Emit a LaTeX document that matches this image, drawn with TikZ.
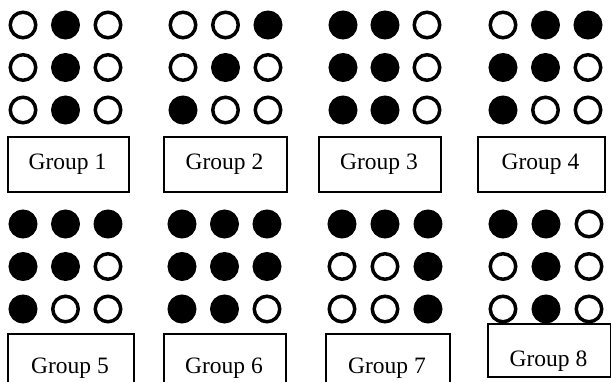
\documentclass[tikz,border=0pt]{standalone}
\usepackage{fontspec}
\setmainfont{Liberation Serif}
\begin{document}
\begin{tikzpicture}[x=1pt,y=-1pt,
  dot/.style={circle, inner sep=0pt, minimum size=25.5pt, line width=3.5pt, draw=black},
  grp/.style={draw=black, line width=1.6pt, inner sep=0pt, anchor=north west},
  lbl/.style={font=\fontsize{23.5}{28}\selectfont, anchor=base, inner sep=0pt}]
\useasboundingbox (0,0) rectangle (611,381);
\clip (0,0) rectangle (611,381);
\foreach \g/\x/\dx/\y/\p in {
 1/23/42.5/25/{white,black,white,white,black,white,white,black,white},
 2/183/42.5/25/{white,white,black,white,black,white,black,white,white},
 3/343/42/25/{black,black,white,black,black,white,black,black,white},
 4/503/42.5/25/{white,black,black,black,black,white,black,white,white},
 5/23/42.5/224/{black,black,black,black,black,white,black,white,white},
 6/182/42.5/224/{black,black,black,black,black,black,black,black,white},
 7/342/43/224/{black,black,black,white,white,black,white,white,black},
 8/503/43/224/{black,black,white,white,black,white,white,black,white}}
{
  \foreach \s [count=\i from 0] in \p {
    \pgfmathtruncatemacro\r{\i/3}
    \pgfmathtruncatemacro\c{mod(\i,3)}
    \node[dot, fill=\s] (g\g-\i) at (\x+\c*\dx, \y+\r*42.5) {};
  }
}
\node[grp, minimum width=121, minimum height=55] (b1) at (7,136) {};
\node[grp, minimum width=123, minimum height=55] (b2) at (163,136) {};
\node[grp, minimum width=122, minimum height=55] (b3) at (318,136) {};
\node[grp, minimum width=127, minimum height=55] (b4) at (477,136) {};
\node[grp, minimum width=126, minimum height=70] (b5) at (7,333) {};
\node[grp, minimum width=122, minimum height=70] (b6) at (163,333) {};
\node[grp, minimum width=124, minimum height=70] (b7) at (325,333) {};
\node[grp, minimum width=123, minimum height=53] (b8) at (487,323) {};
\node[lbl] (t1) at (67.5,169.5) {Group 1};
\node[lbl] (t2) at (224.5,169.5) {Group 2};
\node[lbl] (t3) at (379,169.5) {Group 3};
\node[lbl] (t4) at (540.5,169.5) {Group 4};
\node[lbl] (t5) at (70,373) {Group 5};
\node[lbl] (t6) at (224,373) {Group 6};
\node[lbl] (t7) at (387,373) {Group 7};
\node[lbl] (t8) at (548.5,366) {Group 8};
\end{tikzpicture}
\end{document}
